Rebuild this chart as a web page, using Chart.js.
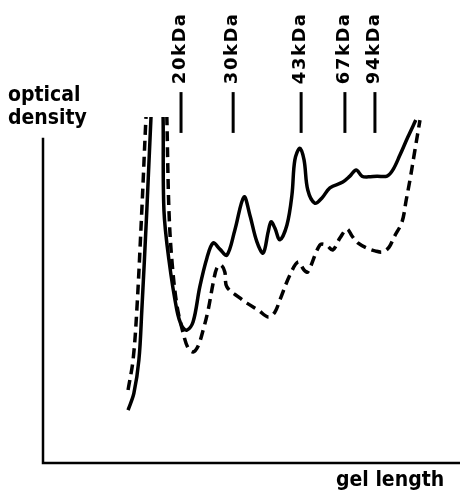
<!DOCTYPE html>
<html>
<head>
<meta charset="utf-8">
<script src="https://cdn.jsdelivr.net/npm/chart.js@4"></script>
<style>
  html, body { margin: 0; padding: 0; background: #fff; }
  #wrap { width: 463px; height: 494px; }
</style>
</head>
<body>
<div id="wrap"><canvas id="densito"></canvas></div>
<script>
// densitometer trace, gel length vs optical density (arbitrary units, 0-100)
const gelSolid = [20.4, 21.8, 23.0, 23.7, 24.9, 25.9, 26.4, 27.1, 28.1, 28.5,
  28.8, 29.0, 30.2, 32.1, 33.3, 34.5, 36.0, 37.6, 39.3, 40.8, 42.4, 44.1, 46.0, 48.2,
  49.6, 51.3, 52.8, 54.0, 54.7, 55.6, 56.8, 58.5, 59.7, 60.4, 61.6, 62.6, 63.5, 65.2,
  66.9, 68.8, 71.9, 73.6, 75.1, 76.5, 78.0, 80.1, 82.5, 83.9, 85.6, 87.5, 89.4];
const odSolid = [15.3, 20.2, 29.8, 44.2, 73.1, 100, 110.7, 116.5, 116.5, 110.7,
  100, 73.1, 58.7, 44.2, 39.6, 38.4, 40.8, 50.9, 59.2, 63.6, 61.8, 60.1, 67.3, 76.9,
  71.7, 63.9, 60.7, 66.8, 69.7, 67.9, 64.5, 68.8, 77.5, 87.6, 91.0, 87.6, 78.9, 75.1,
  76.6, 79.5, 81.2, 82.9, 84.7, 82.9, 82.7, 82.9, 82.9, 84.7, 89.0, 94.2, 99.1];

const gelDashed = [20.4, 21.6, 22.5, 23.7, 24.7, 25.2, 25.9, 28.8, 29.5,
  29.7, 30.2, 30.9, 32.1, 33.6, 34.8, 36.0, 37.2, 38.4, 39.6, 40.8, 41.7, 42.7,
  43.6, 44.1, 47.2, 48.9, 51.6, 54.0, 55.6, 56.8, 59.2, 61.2, 62.6, 63.5, 66.4, 67.9,
  69.5, 71.2, 72.9, 74.1, 75.5, 77.7, 79.6, 81.5, 83.0, 84.2, 86.1, 87.1, 88.0, 89.2, 90.4];
const odDashed = [21.1, 29.8, 44.2, 73.1, 100, 110.7, 116.5, 116.5, 110.7,
  100, 73.1, 58.7, 45.7, 37.6, 33.2, 32.1, 33.8, 38.4, 44.2, 52.0, 56.4, 57.2,
  55.2, 50.9, 47.7, 46.2, 44.2, 42.2, 43.6, 47.1, 54.3, 58.1, 55.8, 55.2, 63.0, 63.0,
  61.6, 65.0, 67.6, 65.6, 63.6, 62.1, 61.3, 61.0, 62.4, 65.3, 69.7, 76.0, 81.8, 90.5, 99.1];

// molecular weight markers
const markerLabels = ["20kDa", "30kDa", "43kDa", "67kDa", "94kDa"];
const markerPos = [33.1, 45.6, 61.9, 72.4, 79.6];

function toPoints(xs, ys) {
  return xs.map((x, i) => ({ x: x, y: ys[i] }));
}

// axes, marker ticks and captions
const decorations = {
  id: "decorations",
  afterDraw(chart) {
    const ctx = chart.ctx;
    const area = chart.chartArea;
    const xs = chart.scales.x;
    const ys = chart.scales.y;
    ctx.save();
    ctx.strokeStyle = "#000";
    ctx.fillStyle = "#000";
    ctx.lineCap = "butt";

    // y axis + x axis
    ctx.lineWidth = 2.5;
    ctx.beginPath();
    ctx.moveTo(area.left, ys.getPixelForValue(94));
    ctx.lineTo(area.left, area.bottom);
    ctx.lineTo(area.right, area.bottom);
    ctx.stroke();

    // marker ticks and labels
    ctx.lineWidth = 3;
    ctx.font = "bold 18px 'DejaVu Sans'";
    ctx.letterSpacing = "1.5px";
    markerPos.forEach((v, i) => {
      const px = xs.getPixelForValue(v);
      ctx.beginPath();
      ctx.moveTo(px, ys.getPixelForValue(107.2));
      ctx.lineTo(px, ys.getPixelForValue(95.4));
      ctx.stroke();
      ctx.save();
      ctx.translate(px - 1, ys.getPixelForValue(109.5));
      ctx.rotate(-Math.PI / 2);
      ctx.textAlign = "left";
      ctx.textBaseline = "middle";
      ctx.fillText(markerLabels[i], 0, 0);
      ctx.restore();
    });

    // axis captions
    ctx.letterSpacing = "0px";
    ctx.font = "bold 21px 'DejaVu Sans Condensed', 'DejaVu Sans'";
    ctx.textAlign = "left";
    ctx.textBaseline = "alphabetic";
    ctx.fillText("optical", 8, 101);
    ctx.fillText("density", 8, 124);
    ctx.fillText("gel length", 336, 486);
    ctx.restore();
  }
};

new Chart(document.getElementById("densito"), {
  type: "line",
  data: {
    datasets: [
      {
        label: "solid",
        data: toPoints(gelSolid, odSolid),
        borderColor: "#000",
        borderWidth: 3.5,
        pointRadius: 0,
        tension: 0.35,
        fill: false
      },
      {
        label: "dashed",
        data: toPoints(gelDashed, odDashed),
        borderColor: "#000",
        borderWidth: 3.5,
        borderDash: [10, 6],
        pointRadius: 0,
        tension: 0.35,
        fill: false
      }
    ]
  },
  options: {
    responsive: true,
    maintainAspectRatio: false,
    animation: false,
    layout: { padding: { left: 43, right: 3, top: 117, bottom: 31 } },
    plugins: { legend: { display: false }, tooltip: { enabled: false } },
    scales: {
      x: { type: "linear", min: 0, max: 100, display: false },
      y: { type: "linear", min: 0, max: 100, display: false }
    }
  },
  plugins: [decorations]
});
</script>
</body>
</html>
